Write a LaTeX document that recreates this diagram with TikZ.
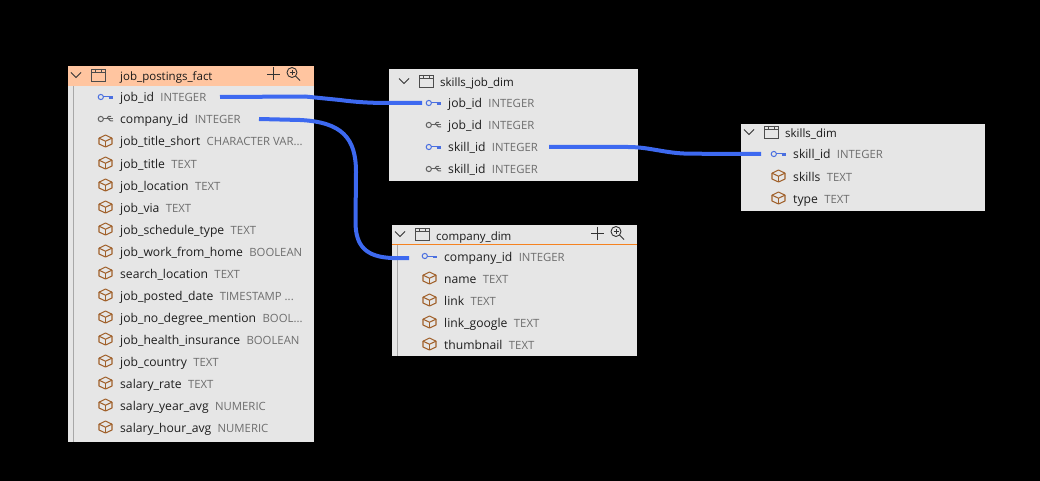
\documentclass[tikz,border=0pt]{standalone}
\usepackage{fontspec}
\setmainfont{Open Sans}
\definecolor{panel}{HTML}{E6E6E6}
\definecolor{peach}{HTML}{FFC5A0}
\definecolor{linkblue}{HTML}{3D69F0}
\definecolor{keyblue}{HTML}{4A6FE0}
\definecolor{keygray}{HTML}{606060}
\definecolor{cube}{HTML}{A0602A}
\definecolor{nametxt}{HTML}{1E1E1E}
\definecolor{typetxt}{HTML}{6E6E6E}
\definecolor{rail}{HTML}{A8A8A8}
\definecolor{accent}{HTML}{F58220}
\newcommand{\fsz}{\fontsize{12.15}{14}\selectfont}
\newcommand{\ttlsz}{\fontsize{11.5}{14}\selectfont}
\newcommand{\tsz}{\fontsize{11.35}{14}\selectfont}
\tikzset{
 x=1pt,y=-1pt,
 panelbox/.style={fill=panel,draw=none},
 nametext/.style={inner sep=0pt,anchor=base west,text=nametxt,font=\fsz},
 typetext/.style={inner sep=0pt,anchor=base west,text=typetxt,font=\tsz},
 titletext/.style={inner sep=0pt,anchor=base west,text=black!90,font=\ttlsz},
 relation/.style={draw=linkblue,line width=4pt,line join=round},
 glyph/.style={line width=1pt},
}
\newcommand{\pkey}[2]{\begin{scope}[shift={(#1,#2)},keyblue,glyph]
 \draw (2.8,0) circle (2.6);\draw (5.4,0)--(15,0);\draw[line width=1.6pt] (10.5,.8)--(14.5,.8);\end{scope}}
\newcommand{\fkey}[2]{\begin{scope}[shift={(#1,#2)},keygray,glyph]
 \draw (2.8,0) circle (2.6);\draw (5.4,0)--(15,0);\draw (8.5,0)--(10.5,-2.6)--(13,-2.6);\draw (10.5,0)--(12.5,1.8)--(15,1.8);\end{scope}}
\newcommand{\cubeic}[2]{\begin{scope}[shift={(#1,#2)},cube,line width=1.05pt,line join=round]
 \draw (1,-2.8)--(7.5,-6)--(14,-2.8)--(14,3)--(7.5,6)--(1,3)--cycle;
 \draw (1,-2.8)--(7.5,.2)--(14,-2.8);\draw (7.5,.2)--(7.5,6);\end{scope}}
\newcommand{\tabic}[2]{\begin{scope}[shift={(#1,#2)},black!70,line width=.9pt]
 \draw (0,-6) rectangle (14,6);\draw (0,-3) -- (14,-3);\draw (4,-6)--(4,-3);\draw (10,-6)--(10,-3);\end{scope}}
\newcommand{\chev}[2]{\draw[black!80,line width=1pt] (#1-5,#2-2.5)--(#1,#2+2.5)--(#1+5,#2-2.5);}
\newcommand{\tools}[2]{\begin{scope}[shift={(#1,#2)},black!80,line width=.9pt]
 \draw (0,0)--(13,0);\draw (6.5,-6.5)--(6.5,6.5);
 \draw (25,-1.5) circle (5);\draw (28.5,2)--(33,6.5);\draw[line width=.7pt] (22.5,-1.5)--(27.5,-1.5);\draw[line width=.7pt] (25,-4)--(25,1);\end{scope}}
\newcommand{\colrow}[7]{#2{#5}{#4}
 \node[nametext] (#1) at (#3,#4+5) {#6};
 \node[typetext,xshift=6pt] (#1t) at (#1.base east) {#7};}
\begin{document}
\begin{tikzpicture}
\useasboundingbox[fill=black] (0,0) rectangle (1040,481);
% job_postings_fact
\path[panelbox] (68,66) rectangle (314,442);
\path[fill=peach] (68,66) rectangle (314,86);
\draw[rail,line width=1pt] (73,86)--(73,442);
\chev{76}{75}\tabic{91}{75}\tools{267}{74}
\node[titletext] (fact) at (120,81) {job\_postings\_fact};
\colrow{f1}{\pkey}{120}{97}{98}{job\_id}{INTEGER}
\colrow{f2}{\fkey}{120}{119}{98}{company\_id}{INTEGER}
\colrow{f3}{\cubeic}{120}{141}{98}{job\_title\_short}{CHARACTER VAR...}
\colrow{f4}{\cubeic}{120}{163}{98}{job\_title}{TEXT}
\colrow{f5}{\cubeic}{120}{185}{98}{job\_location}{TEXT}
\colrow{f6}{\cubeic}{120}{207}{98}{job\_via}{TEXT}
\colrow{f7}{\cubeic}{120}{229}{98}{job\_schedule\_type}{TEXT}
\colrow{f8}{\cubeic}{120}{251}{98}{job\_work\_from\_home}{BOOLEAN}
\colrow{f9}{\cubeic}{120}{273}{98}{search\_location}{TEXT}
\colrow{f10}{\cubeic}{120}{295}{98}{job\_posted\_date}{TIMESTAMP ...}
\colrow{f11}{\cubeic}{120}{317}{98}{job\_no\_degree\_mention}{BOOL...}
\colrow{f12}{\cubeic}{120}{339}{98}{job\_health\_insurance}{BOOLEAN}
\colrow{f13}{\cubeic}{120}{361}{98}{job\_country}{TEXT}
\colrow{f14}{\cubeic}{120}{383}{98}{salary\_rate}{TEXT}
\colrow{f15}{\cubeic}{120}{405}{98}{salary\_year\_avg}{NUMERIC}
\colrow{f16}{\cubeic}{120}{427}{98}{salary\_hour\_avg}{NUMERIC}
% skills_job_dim
\path[panelbox] (389,69) rectangle (638,181);
\chev{404}{81}\tabic{419}{81}
\node[titletext] (sjd) at (440,87) {skills\_job\_dim};
\colrow{j1}{\pkey}{448}{103}{426}{job\_id}{INTEGER}
\colrow{j2}{\fkey}{448}{125}{426}{job\_id}{INTEGER}
\colrow{j3}{\pkey}{448}{147}{426}{skill\_id}{INTEGER}
\colrow{j4}{\fkey}{448}{169}{426}{skill\_id}{INTEGER}
% company_dim
\path[panelbox] (392,225) rectangle (637,356);
\draw[accent,line width=1.2pt] (392,244.5)--(637,244.5);
\draw[rail,line width=1pt] (397,245)--(397,356);
\chev{400}{234}\tabic{415}{234}\tools{591}{233}
\node[titletext] (cd) at (436,240) {company\_dim};
\colrow{c1}{\pkey}{444}{256}{422}{company\_id}{INTEGER}
\colrow{c2}{\cubeic}{444}{278}{422}{name}{TEXT}
\colrow{c3}{\cubeic}{444}{300}{422}{link}{TEXT}
\colrow{c4}{\cubeic}{444}{322}{422}{link\_google}{TEXT}
\colrow{c5}{\cubeic}{444}{344}{422}{thumbnail}{TEXT}
% skills_dim
\path[panelbox] (741,124) rectangle (985,211);
\chev{749}{132}\tabic{764}{132}
\node[titletext] (sd) at (785,138) {skills\_dim};
\colrow{d1}{\pkey}{793}{154}{771}{skill\_id}{INTEGER}
\colrow{d2}{\cubeic}{793}{176}{771}{skills}{TEXT}
\colrow{d3}{\cubeic}{793}{198}{771}{type}{TEXT}
% connectors
\coordinate (a1) at (220,97);\coordinate (a2) at (422,103);
\coordinate (b1) at (259,119);\coordinate (b2) at (409,258);
\coordinate (e1) at (549,147);\coordinate (e2) at (761,154);
\path[relation] (a1) -- (305,96.5) -- (340,100) .. controls (355,102) and (370,103) .. (388,103) -- (a2);
\path[relation] (b1) -- (300,120) .. controls (342,122) and (356,138) .. (356,172) -- (355.5,222) .. controls (355.5,246) and (366,257) .. (392,258) -- (b2);
\path[relation] (e1) -- (628,147) .. controls (650,147) and (665,153.5) .. (690,153.7) -- (e2);
\end{tikzpicture}
\end{document}
